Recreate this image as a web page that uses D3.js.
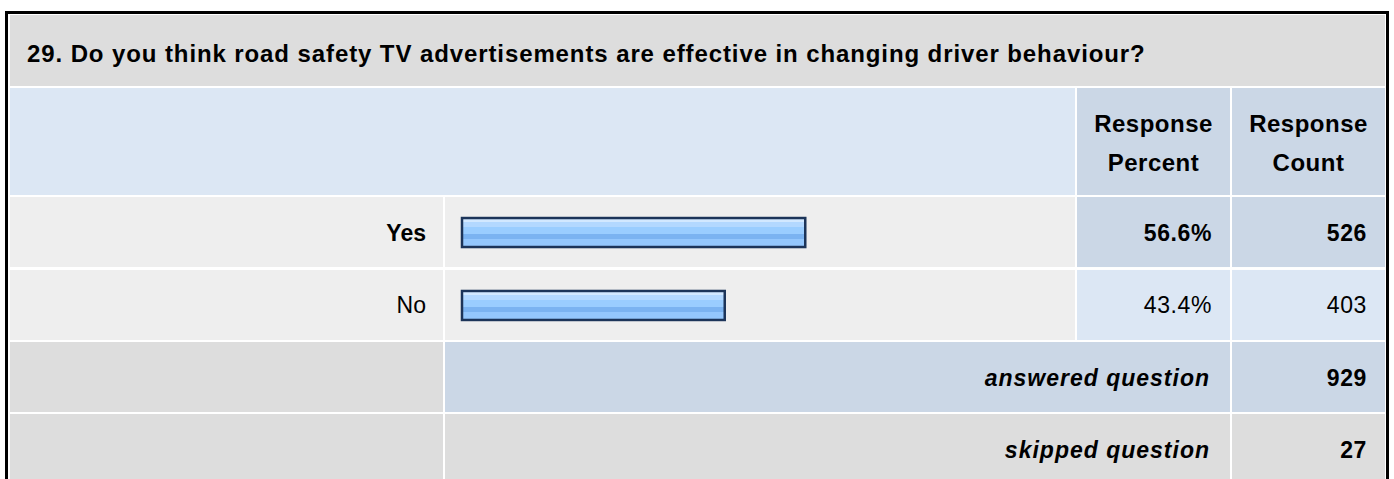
<!DOCTYPE html>
<meta charset="utf-8">
<style>
body { margin: 0; background: #fff; }
text { font-family: "Liberation Sans", Arial, sans-serif; font-size: 23px; fill: #000; }
.b { font-weight: bold; }
.bi { font-weight: bold; font-style: italic; }
</style>
<body>
<script src="https://cdn.jsdelivr.net/npm/d3@7"></script>
<script>

// survey data
var question = "29. Do you think road safety TV advertisements are effective in changing driver behaviour?";
var answers = ["Yes", "No"];
var percents = [56.6, 43.4];
var counts = [526, 403];
var answered = 929;
var skipped = 27;
var headers = [["Response", "Percent"], ["Response", "Count"]];

var W = 1394, H = 479;

// table columns (left, right)
var col = [[10, 443], [445, 1075], [1077, 1230], [1232, 1385]];

// colours
var grey = "#dddddd", light = "#eeeeee", blueDark = "#cbd7e6", blueLight = "#dce7f4";

var svg = d3.select("body").append("svg")
    .attr("width", W)
    .attr("height", H);

// gradient for the bars
var grad = svg.append("defs").append("linearGradient")
    .attr("id", "barGrad")
    .attr("x1", 0).attr("y1", 0).attr("x2", 0).attr("y2", 1);
[[0, "#d2e8ff"], [0.14, "#d2e8ff"], [0.14, "#b3d8ff"], [0.3, "#b3d8ff"], [0.3, "#9acdff"],
 [0.56, "#9acdff"], [0.56, "#7bb3f1"], [0.74, "#7bb3f1"], [0.74, "#94c7fd"], [1, "#94c7fd"]]
  .forEach(function(s) {
    grad.append("stop").attr("offset", s[0]).attr("stop-color", s[1]);
  });

// outer frame
svg.append("rect")
    .attr("x", 6.5).attr("y", 12.5)
    .attr("width", 1381).attr("height", 500)
    .attr("fill", "#fff")
    .attr("stroke", "#000")
    .attr("stroke-width", 3);

function cell(x0, x1, y0, y1, fill) {
  svg.append("rect")
      .attr("x", x0).attr("y", y0)
      .attr("width", x1 - x0).attr("height", y1 - y0)
      .attr("fill", fill);
}

// title row
cell(col[0][0], col[3][1], 15, 86, grey);
svg.append("text").attr("class", "b")
    .attr("x", 27).attr("y", 62)
    .style("font-size", "24px")
    .style("letter-spacing", "0.9px")
    .text(question);

// header row
var hy0 = 88, hy1 = 195;
cell(col[0][0], col[1][1], hy0, hy1, blueLight);
headers.forEach(function(h, i) {
  var c = col[i + 2];
  cell(c[0], c[1], hy0, hy1, blueDark);
  h.forEach(function(line, j) {
    svg.append("text").attr("class", "b")
        .attr("x", (c[0] + c[1]) / 2)
        .attr("y", 132 + j * 39)
        .attr("text-anchor", "middle")
        .style("font-size", "24px")
        .style("letter-spacing", "0.5px")
        .text(line);
  });
});

// answer rows
var rowY = d3.scaleBand()
    .domain(answers)
    .range([197, 340])
    .paddingInner(0.04);

var x = d3.scaleLinear().domain([0, 100]).range([461, 1071]);
var maxCount = d3.max(counts);

answers.forEach(function(a, i) {
  var y0 = rowY(a), y1 = y0 + rowY.bandwidth();
  var yc = (y0 + y1) / 2;
  var top = counts[i] === maxCount;
  cell(col[0][0], col[0][1], y0, y1, light);
  cell(col[1][0], col[1][1], y0, y1, light);
  cell(col[2][0], col[2][1], y0, y1, top ? blueDark : blueLight);
  cell(col[3][0], col[3][1], y0, y1, top ? blueDark : blueLight);

  svg.append("text").attr("class", top ? "b" : null)
      .attr("x", 426).attr("y", yc + 8.5)
      .attr("text-anchor", "end")
      .text(a);

  svg.append("rect")
      .attr("x", x(0) + 1).attr("y", yc - 14)
      .attr("width", x(percents[i]) - x(0) - 2)
      .attr("height", 29)
      .attr("fill", "url(#barGrad)")
      .attr("stroke", "#1c3459")
      .attr("stroke-width", 2.5);

  svg.append("text").attr("class", top ? "b" : null)
      .attr("x", 1212).attr("y", yc + 8.5)
      .attr("text-anchor", "end")
      .style("letter-spacing", "0.6px")
      .text(d3.format(".1f")(percents[i]) + "%");

  svg.append("text").attr("class", top ? "b" : null)
      .attr("x", 1367).attr("y", yc + 8.5)
      .attr("text-anchor", "end")
      .style("letter-spacing", "0.6px")
      .text(counts[i]);
});

// summary rows
var summary = [["answered question", answered, blueDark], ["skipped question", skipped, grey]];
summary.forEach(function(s, i) {
  var y0 = 342 + i * 72, y1 = y0 + 70, yc = (y0 + y1) / 2;
  cell(col[0][0], col[0][1], y0, y1, grey);
  cell(col[1][0], col[2][1], y0, y1, s[2]);
  cell(col[3][0], col[3][1], y0, y1, s[2]);
  svg.append("text").attr("class", "bi")
      .attr("x", 1210).attr("y", yc + 8.5)
      .attr("text-anchor", "end")
      .style("letter-spacing", "1px")
      .text(s[0]);
  svg.append("text").attr("class", "b")
      .attr("x", 1367).attr("y", yc + 8.5)
      .attr("text-anchor", "end")
      .style("letter-spacing", "0.6px")
      .text(s[1]);
});

</script>
</body>
